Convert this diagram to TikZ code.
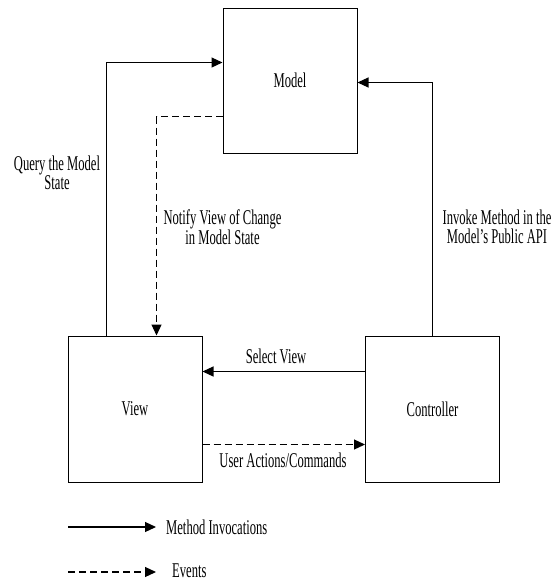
\documentclass[tikz,border=0pt]{standalone}
\usepackage{fontspec}
\setmainfont{Liberation Serif}[FakeStretch=0.6]
\usetikzlibrary{arrows.meta}
\tikzset{
  box/.style={draw=black, line width=1pt, inner sep=0pt, minimum width=134pt, font=\fontsize{21}{19.5}\selectfont},
  lbl/.style={inner sep=0pt, align=center, font=\fontsize{21}{19.5}\selectfont},
  solidarrow/.style={draw=black, line width=1.2pt, -{Triangle[length=11pt,width=10pt]}},
  dasharrow/.style={draw=black, line width=1.2pt, dash pattern=on 7pt off 4pt, -{Triangle[length=11pt,width=10pt]}}
}
\begin{document}
\begin{tikzpicture}[x=1pt,y=-1pt]
\useasboundingbox (0,0) rectangle (556,581);
\node[box, minimum height=145pt] (model) at (290,80.5) {Model};
\node[box, minimum height=146pt] (view) at (135,409) {View};
\node[box, minimum height=146pt] (ctrl) at (432.5,409) {Controller};

% Query the model state
\draw[solidarrow] ([xshift=39pt]view.north west) |- ([yshift=-55pt]model.north west);
% Notify view
\draw[dasharrow] ([yshift=-109pt]model.north west) -| ([xshift=89pt]view.north west);
% Invoke method
\draw[solidarrow] (ctrl.north) |- ([yshift=-75pt]model.north east);
% Select view
\draw[solidarrow] ([yshift=-36pt]ctrl.north west) -- ([yshift=-36pt]view.north east);
% User actions
\draw[dasharrow] ([yshift=-109pt]view.north east) -- ([yshift=-109pt]ctrl.north west);

\node[lbl] (lq) at (57,173) {Query the Model\\State};
\node[lbl] (ln) at (222.5,227) {Notify View of Change\\in Model State};
\node[lbl] (li) at (497,227) {Invoke Method in the\\Model’s Public API};
\node[lbl, anchor=base] (ls) at (276,363) {Select View};
\node[lbl, anchor=base] (lu) at (283,467) {User Actions/Commands};

% legend
\coordinate (l1a) at (68,527);
\coordinate (l1b) at (156,527);
\coordinate (l2a) at (68,572);
\coordinate (l2b) at (156,572);
\draw[solidarrow] (l1a) -- (l1b);
\draw[dasharrow] (l2a) -- (l2b);
\node[lbl, anchor=base west] (lm) at (166,534) {Method Invocations};
\node[lbl, anchor=base west] (le) at (172,577) {Events};
\end{tikzpicture}
\end{document}
